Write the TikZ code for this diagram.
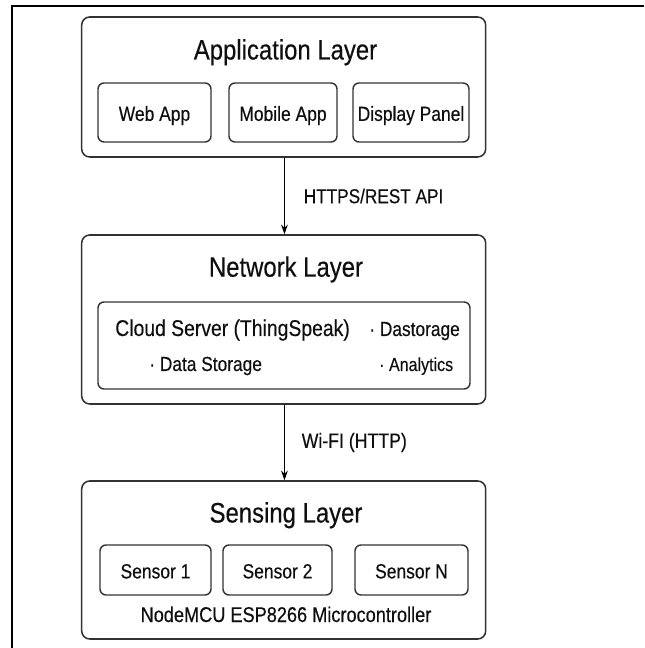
\documentclass[tikz,border=0pt]{standalone}
\usepackage{fontspec}
\setmainfont{Liberation Sans}[FakeStretch=0.85, FakeBold=0.35]
\usepackage{tikz}
\usetikzlibrary{arrows.meta, positioning, calc}
\usepackage{xcolor}
\definecolor{edgegray}{RGB}{50,50,50}
\definecolor{inkblack}{RGB}{15,15,15}

\begin{document}
\begin{tikzpicture}[scale=0.25,
  layer/.style={draw=edgegray, line width=1.1pt, rounded corners=0.2cm, minimum width=10.1cm, inner sep=0},
  unit/.style={draw=edgegray, line width=1pt, rounded corners=0.15cm, inner sep=0,
    text height=0.52cm, text depth=0.1cm, text=inkblack, font=\fontsize{14.6}{17}\selectfont},
  title/.style={anchor=base, inner sep=0, text=inkblack, font=\fontsize{20}{23}\selectfont},
  note/.style={anchor=base west, inner sep=0, text=inkblack, font=\fontsize{14.5}{17}\selectfont},
  flow/.style={-{Stealth[length=2.4mm,width=1.7mm]}, line width=0.7pt}]
  \useasboundingbox (0,0) rectangle (64.4,64.8);
  \draw[line width=1.5pt] (1.2,0) -- (1.2,64.2) -- (64.4,64.2);

  % top: application layer
  \node[layer, minimum height=3.5cm] (app) at (28.37,56.1) {};
  \node[title] (appT) at (28.55,58.85) {Application Layer};
  \node[unit, minimum width=2.825cm, minimum height=1.475cm] (web) at (15.45,53.55) {Web App};
  \node[unit, minimum width=2.7cm, minimum height=1.475cm] (mobile) at (28.3,53.55) {Mobile App};
  \node[unit, minimum width=2.9cm, minimum height=1.475cm] (panel) at (41.1,53.55) {Display Panel};

  % middle: network layer
  \node[layer, minimum height=4.225cm] (net) at (28.37,32.85) {};
  \node[title] (netT) at (28.6,37.13) {Network Layer};
  \node[draw=edgegray, line width=1pt, rounded corners=0.15cm, minimum width=9.3cm, minimum height=2.175cm] (cloud) at (28.4,30.25) {};
  \node[note, font=\fontsize{16.2}{19}\selectfont] (server) at (11.5,31.2) {Cloud Server (ThingSpeak)};
  \node[note] (dast) at (36.9,31.2) {· Dastorage};
  \node[note] (store) at (14.9,27.7) {· Data Storage};
  \node[note, font=\fontsize{13.4}{16}\selectfont] (analytics) at (37.9,27.7) {· Analytics};

  % bottom: sensing layer
  \node[layer, minimum height=3.95cm] (sense) at (28.37,8.8) {};
  \node[title] (senseT) at (28.6,12.55) {Sensing Layer};
  \node[unit, minimum width=2.775cm, minimum height=1.25cm] (s1) at (15.55,7.8) {Sensor 1};
  \node[unit, minimum width=2.725cm, minimum height=1.25cm] (s2) at (27.75,7.8) {Sensor 2};
  \node[unit, minimum width=2.825cm, minimum height=1.25cm] (sN) at (41.15,7.8) {Sensor N};
  \node[title, font=\fontsize{15.2}{18}\selectfont] (mcu) at (28.6,2.6) {NodeMCU ESP8266 Microcontroller};

  % links between layers
  \draw[flow] ([xshift=0.75mm]app.south) -- node[midway, anchor=west, xshift=4.7mm, inner sep=0, text=inkblack, font=\fontsize{14.4}{17}\selectfont] {HTTPS/REST API} ([xshift=0.75mm]net.north);
  \draw[flow] ([xshift=0.75mm]net.south) -- node[midway, anchor=west, xshift=4.2mm, inner sep=0, text=inkblack, font=\fontsize{14.8}{17}\selectfont] {Wi-FI (HTTP)} ([xshift=0.75mm]sense.north);
\end{tikzpicture}
\end{document}
